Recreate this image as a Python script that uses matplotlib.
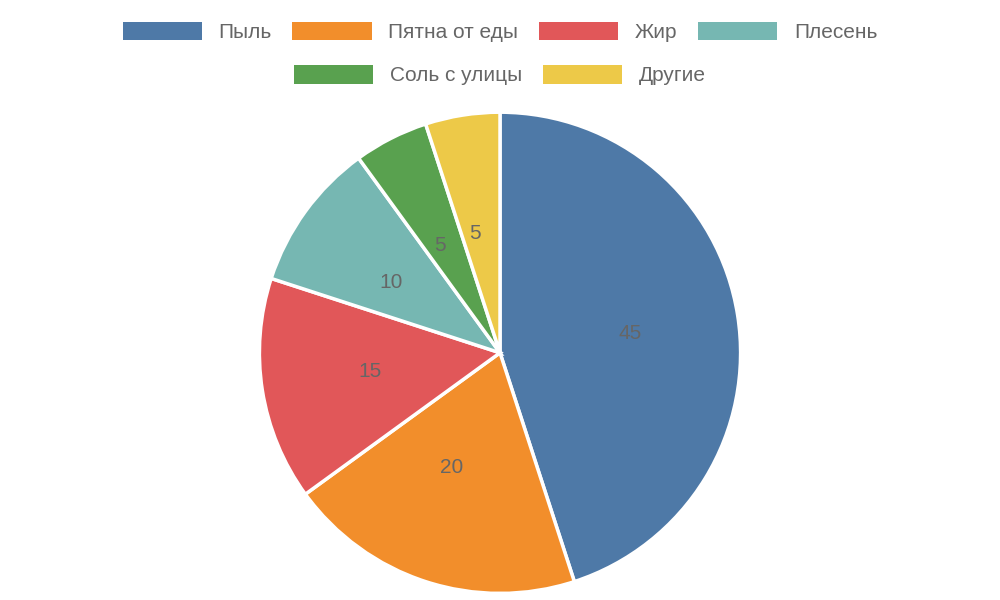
import matplotlib
matplotlib.use("Agg")
import matplotlib.pyplot as plt
from matplotlib.patches import Patch

plt.rcParams['font.family'] = ['Liberation Sans', 'DejaVu Sans']

labels = ['Пыль', 'Пятна от еды', 'Жир', 'Плесень', 'Соль с улицы', 'Другие']
values = [45, 20, 15, 10, 5, 5]
colors = ['#4e79a7', '#f28e2b', '#e15759', '#76b7b2', '#59a14f', '#edc948']

fig = plt.figure(figsize=(10, 6), dpi=100)
ax = fig.add_axes([0.257, 0.007, 0.486, 0.81])
wedges, texts = ax.pie(values, colors=colors, startangle=90, counterclock=False,
                       labels=[str(v) for v in values], labeldistance=0.5,
                       wedgeprops=dict(edgecolor='white', linewidth=2.5),
                       textprops=dict(color='#666666', fontsize=15))
ax.set_xlim(-1.01, 1.01)
ax.set_ylim(-1.01, 1.01)
ax.set_aspect('equal')

handles = [Patch(facecolor=c, label=l) for c, l in zip(colors, labels)]
kw = dict(loc='upper center', frameon=False, handlelength=3.8, handleheight=1.0,
          columnspacing=1.0, handletextpad=0.8, fontsize=15, labelcolor='#666666')
fig.legend(handles=handles[:4], bbox_to_anchor=(0.5, 0.995), ncol=4, **kw)
fig.legend(handles=handles[4:], bbox_to_anchor=(0.5, 0.923), ncol=2, **kw)

fig.savefig('out.png')
